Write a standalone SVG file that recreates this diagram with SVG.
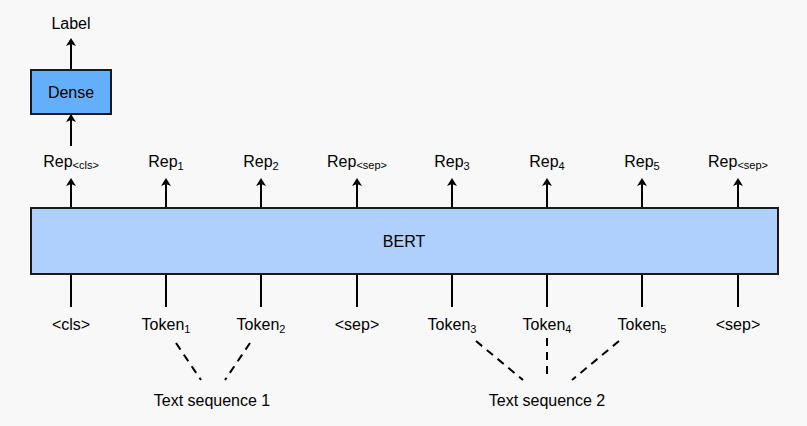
<svg xmlns="http://www.w3.org/2000/svg" width="807" height="426" viewBox="0 0 807 426">
<style>
text{font-family:"Liberation Sans",Arial,sans-serif;font-size:16px;fill:#000;text-anchor:middle}
.s{font-size:11px}
.ln{stroke:#000;stroke-width:2;fill:none}
.a{marker-end:url(#ah)}
.d{stroke-dasharray:8,6}
</style>
<defs><marker id="ah" markerWidth="8" markerHeight="10" refX="6" refY="5" orient="auto" markerUnits="userSpaceOnUse"><path d="M0,0 L8,5 L0,10 L2,5 Z" fill="#000"/></marker></defs>
<rect width="807" height="426" fill="#f8f8f8"/>
<g id="connectors">
<line class="ln a" x1="71" y1="70" x2="71" y2="40"/>
<line class="ln a" x1="71" y1="146" x2="71" y2="116"/>
<line class="ln a" x1="71" y1="208" x2="71" y2="180"/>
<line class="ln a" x1="166" y1="208" x2="166" y2="180"/>
<line class="ln a" x1="261" y1="208" x2="261" y2="180"/>
<line class="ln a" x1="357" y1="208" x2="357" y2="180"/>
<line class="ln a" x1="452" y1="208" x2="452" y2="180"/>
<line class="ln a" x1="547" y1="208" x2="547" y2="180"/>
<line class="ln a" x1="642" y1="208" x2="642" y2="180"/>
<line class="ln a" x1="738" y1="208" x2="738" y2="180"/>
<line class="ln" x1="71" y1="274" x2="71" y2="307"/>
<line class="ln" x1="166" y1="274" x2="166" y2="307"/>
<line class="ln" x1="261" y1="274" x2="261" y2="307"/>
<line class="ln" x1="357" y1="274" x2="357" y2="307"/>
<line class="ln" x1="452" y1="274" x2="452" y2="307"/>
<line class="ln" x1="547" y1="274" x2="547" y2="307"/>
<line class="ln" x1="642" y1="274" x2="642" y2="307"/>
<line class="ln" x1="738" y1="274" x2="738" y2="307"/>
<line class="ln d" x1="176" y1="343" x2="201" y2="380"/>
<line class="ln d" x1="250" y1="343" x2="225" y2="380"/>
<line class="ln d" x1="476" y1="341" x2="523" y2="380"/>
<line class="ln d" x1="547" y1="338" x2="547" y2="380"/>
<line class="ln d" x1="619" y1="341" x2="572" y2="380"/>
</g>
<g id="label"><text x="71" y="29">Label</text></g>
<g id="dense"><rect x="31" y="70" width="80" height="44" fill="#64affc" stroke="#1a1a1a" stroke-width="2"/><text x="71" y="98">Dense</text></g>
<g id="bert"><rect x="31" y="208" width="747" height="66" fill="#afd0fc" stroke="#1a1a1a" stroke-width="2"/><text x="404" y="247">BERT</text></g>
<g id="reps">
<text x="71" y="167">Rep<tspan class="s" dy="2">&lt;cls&gt;</tspan></text>
<text x="166" y="167">Rep<tspan class="s" dy="3">1</tspan></text>
<text x="261" y="167">Rep<tspan class="s" dy="3">2</tspan></text>
<text x="357" y="167">Rep<tspan class="s" dy="2">&lt;sep&gt;</tspan></text>
<text x="452" y="167">Rep<tspan class="s" dy="3">3</tspan></text>
<text x="547" y="167">Rep<tspan class="s" dy="3">4</tspan></text>
<text x="642" y="167">Rep<tspan class="s" dy="3">5</tspan></text>
<text x="738" y="167">Rep<tspan class="s" dy="2">&lt;sep&gt;</tspan></text>
</g>
<g id="tokens">
<text x="71" y="330">&lt;cls&gt;</text>
<text x="166" y="330">Token<tspan class="s" dy="3">1</tspan></text>
<text x="261" y="330">Token<tspan class="s" dy="3">2</tspan></text>
<text x="357" y="330">&lt;sep&gt;</text>
<text x="452" y="330">Token<tspan class="s" dy="3">3</tspan></text>
<text x="547" y="330">Token<tspan class="s" dy="3">4</tspan></text>
<text x="642" y="330">Token<tspan class="s" dy="3">5</tspan></text>
<text x="738" y="330">&lt;sep&gt;</text>
</g>
<g id="seq1"><text x="212" y="406">Text sequence 1</text></g>
<g id="seq2"><text x="547" y="406">Text sequence 2</text></g>
</svg>
